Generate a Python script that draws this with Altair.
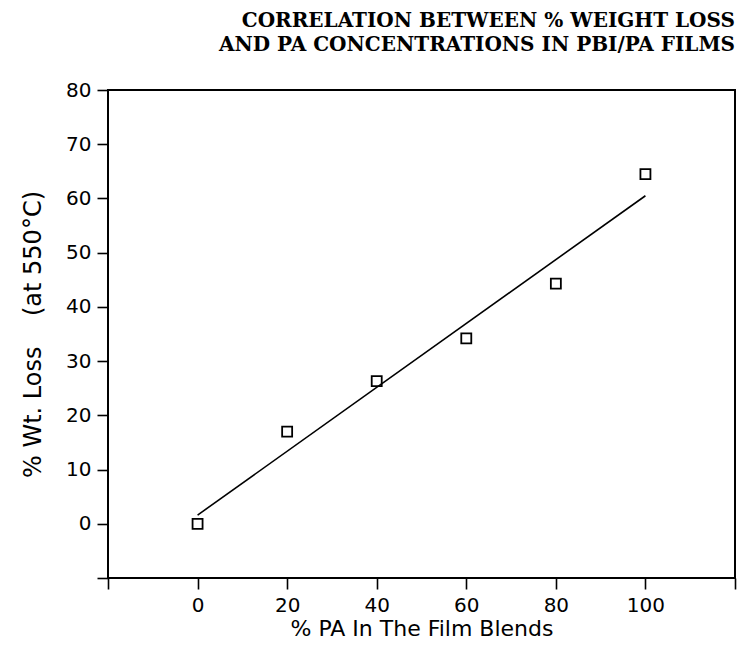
import altair as alt
import pandas as pd

# Data
pa_percent = [0, 20, 40, 60, 80, 100]
wt_loss = [0.0, 17.0, 26.3, 34.2, 44.3, 64.5]

title_lines = ["CORRELATION BETWEEN % WEIGHT LOSS", "AND PA CONCENTRATIONS IN PBI/PA FILMS"]
x_title = "% PA In The Film Blends"
y_title = "% Wt. Loss\u00a0\u00a0\u00a0\u00a0(at 550°C)"

x_ticks = [-20, 0, 20, 40, 60, 80, 100, 120]
y_ticks = [-10, 0, 10, 20, 30, 40, 50, 60, 70, 80]

df = pd.DataFrame({"pa": pa_percent, "loss": wt_loss})

axis_font = "DejaVu Sans"

x_enc = alt.X(
    "pa:Q",
    scale=alt.Scale(domain=[-20, 120], nice=False, zero=False),
    axis=alt.Axis(
        values=x_ticks,
        labelExpr="datum.value < 0 || datum.value > 100 ? '' : datum.label",
        title=x_title,
        grid=False,
        domain=False,
        tickSize=11,
        tickWidth=1.6,
        tickColor="black",
        labelFont=axis_font,
        labelFontSize=20,
        labelColor="black",
        labelPadding=6,
        titleFont=axis_font,
        titleFontSize=22,
        titleFontWeight="normal",
        titleColor="black",
        titlePadding=3,
    ),
)
y_enc = alt.Y(
    "loss:Q",
    scale=alt.Scale(domain=[-10, 80], nice=False, zero=False),
    axis=alt.Axis(
        values=y_ticks,
        labelExpr="datum.value < 0 ? '' : datum.label",
        title=y_title,
        grid=False,
        domain=False,
        tickSize=11,
        tickWidth=1.6,
        tickColor="black",
        labelFont=axis_font,
        labelFontSize=20,
        labelColor="black",
        labelPadding=6,
        titleFont=axis_font,
        titleFontSize=24,
        titleFontWeight="normal",
        titleColor="black",
        titlePadding=20,
    ),
)

points = alt.Chart(df).mark_point(
    shape="square", size=100, filled=False, color="black", strokeWidth=1.8, opacity=1
).encode(x=x_enc, y=y_enc)

fit = alt.Chart(df).transform_regression(
    "pa", "loss", extent=[0, 100]
).mark_line(color="black", strokeWidth=1.6).encode(x=x_enc, y=y_enc)

chart = (
    alt.layer(fit, points)
    .properties(
        width=627,
        height=488,
        autosize=alt.AutoSizeParams(type="none"),
        padding={"left": 100, "top": 82, "right": 10, "bottom": 64},
        title=alt.TitleParams(
            text=title_lines,
            anchor="end",
            align="right",
            frame="group",
            font="DejaVu Serif",
            fontWeight="bold",
            fontSize=20,
            lineHeight=24,
            color="black",
            offset=25,
        ),
    )
    .configure(background="white")
    .configure_view(stroke="black", strokeWidth=2)
)

chart.save("out.html", embed_options={"renderer": "svg", "actions": False})
